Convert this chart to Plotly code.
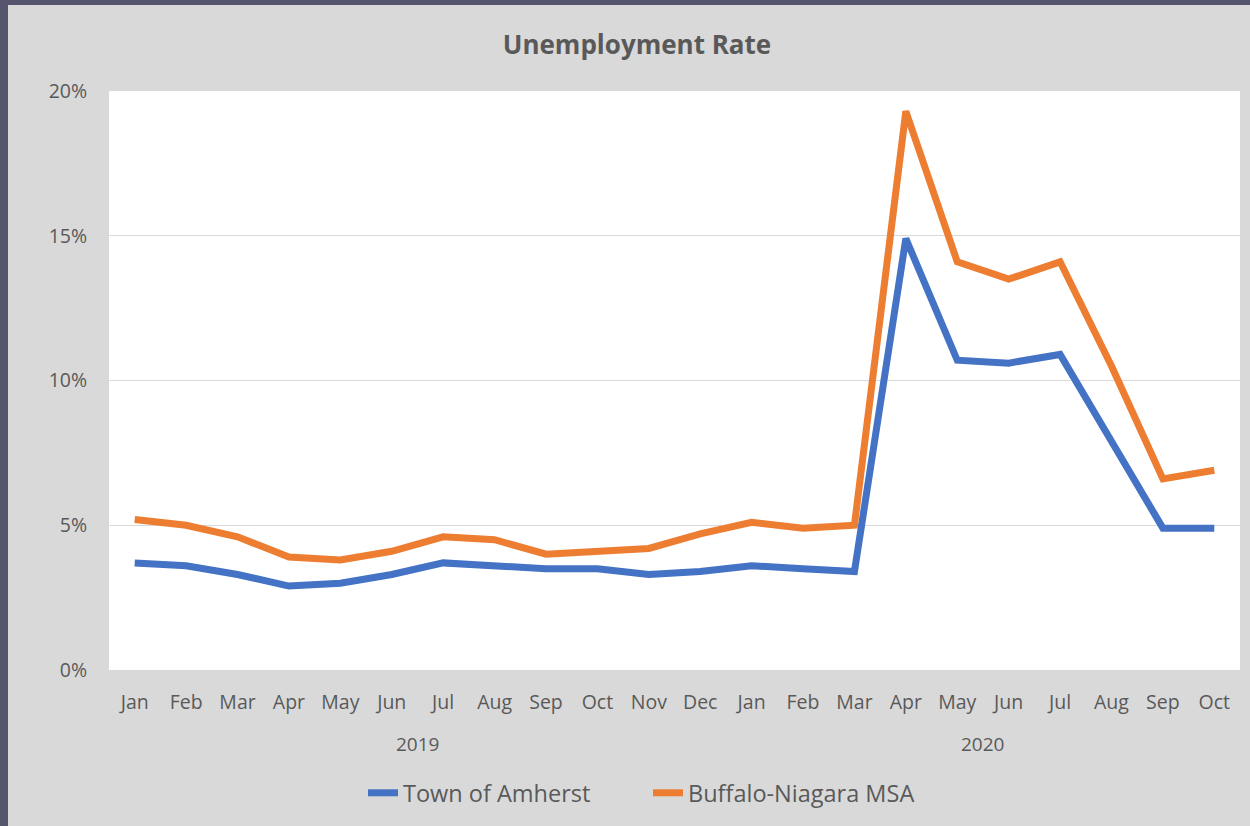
import plotly.graph_objects as go

months = ["Jan", "Feb", "Mar", "Apr", "May", "Jun", "Jul", "Aug", "Sep", "Oct", "Nov", "Dec",
          "Jan", "Feb", "Mar", "Apr", "May", "Jun", "Jul", "Aug", "Sep", "Oct"]
years = ["2019"] * 12 + ["2020"] * 10
amherst = [3.7, 3.6, 3.3, 2.9, 3.0, 3.3, 3.7, 3.6, 3.5, 3.5, 3.3, 3.4,
           3.6, 3.5, 3.4, 14.9, 10.7, 10.6, 10.9, 7.9, 4.9, 4.9]
buffalo = [5.2, 5.0, 4.6, 3.9, 3.8, 4.1, 4.6, 4.5, 4.0, 4.1, 4.2, 4.7,
           5.1, 4.9, 5.0, 19.3, 14.1, 13.5, 14.1, 10.5, 6.6, 6.9]
y_ticks = [0, 5, 10, 15, 20]
y_ticktext = ["0%", "5%", "10%", "15%", "20%"]

x = list(range(len(months)))
FONT = "Open Sans"
GRAY = "#595959"

fig = go.Figure()
fig.add_trace(go.Scatter(x=x, y=amherst, mode="lines", name="Town of Amherst",
                         line=dict(color="#4472C4", width=7)))
fig.add_trace(go.Scatter(x=x, y=buffalo, mode="lines", name="Buffalo-Niagara MSA",
                         line=dict(color="#ED7D31", width=7)))

# year group labels centred under their months
for yr in ["2019", "2020"]:
    idx = [i for i, v in enumerate(years) if v == yr]
    fig.add_annotation(x=(idx[0] + idx[-1]) / 2, y=0, xref="x", yref="y",
                       yshift=-74, text=yr, showarrow=False,
                       font=dict(family=FONT, size=19, color=GRAY))

# dark window border strips (top and left)
L, R, T, B = 109, 10, 91, 156
W, H = 1250, 826
pw, ph = W - L - R, H - T - B
fig.add_shape(type="rect", xref="paper", yref="paper",
              x0=-L / pw, x1=(8 - L) / pw, y0=-B / ph, y1=(H - B) / ph,
              fillcolor="#55566e", line_width=0, layer="above")
fig.add_shape(type="rect", xref="paper", yref="paper",
              x0=-L / pw, x1=(W - L) / pw, y0=(H - B - 5) / ph, y1=(H - B) / ph,
              fillcolor="#55566e", line_width=0, layer="above")

fig.update_layout(
    width=W, height=H, autosize=False,
    margin=dict(l=L, r=R, t=T, b=B, autoexpand=False),
    paper_bgcolor="#d9d9d9",
    plot_bgcolor="#ffffff",
    title=dict(text="<b>Unemployment Rate</b>", x=(637 - L) / pw, xref="paper",
               xanchor="center", y=1 - 45 / H, yanchor="middle",
               font=dict(family=FONT, size=26, color=GRAY)),
    font=dict(family=FONT, color=GRAY),
    showlegend=True,
    legend=dict(orientation="h", x=(363 - L) / pw, xanchor="left",
                y=-(793 - 670) / ph, yanchor="middle",
                entrywidth=240, entrywidthmode="pixels",
                font=dict(family=FONT, size=23.5, color=GRAY),
                bgcolor="rgba(0,0,0,0)"),
    xaxis=dict(tickmode="array", tickvals=x, ticktext=months, tickangle=0,
               range=[-0.5, len(months) - 0.5], showgrid=False, zeroline=False,
               showline=False, ticks="outside", ticklen=15,
               tickcolor="rgba(0,0,0,0)",
               tickfont=dict(family=FONT, size=19.5, color=GRAY)),
    yaxis=dict(tickmode="array", tickvals=y_ticks, ticktext=y_ticktext,
               range=[0, 20], showgrid=True, gridcolor="#d9d9d9", gridwidth=1,
               zeroline=True, zerolinecolor="#d9d9d9", zerolinewidth=1,
               ticks="outside", ticklen=17, tickcolor="rgba(0,0,0,0)",
               tickfont=dict(family=FONT, size=19.5, color=GRAY)),
)

fig.write_html("out.html", config={"displayModeBar": False},
               post_script="document.body.style.margin='0';document.body.style.overflow='hidden';")
